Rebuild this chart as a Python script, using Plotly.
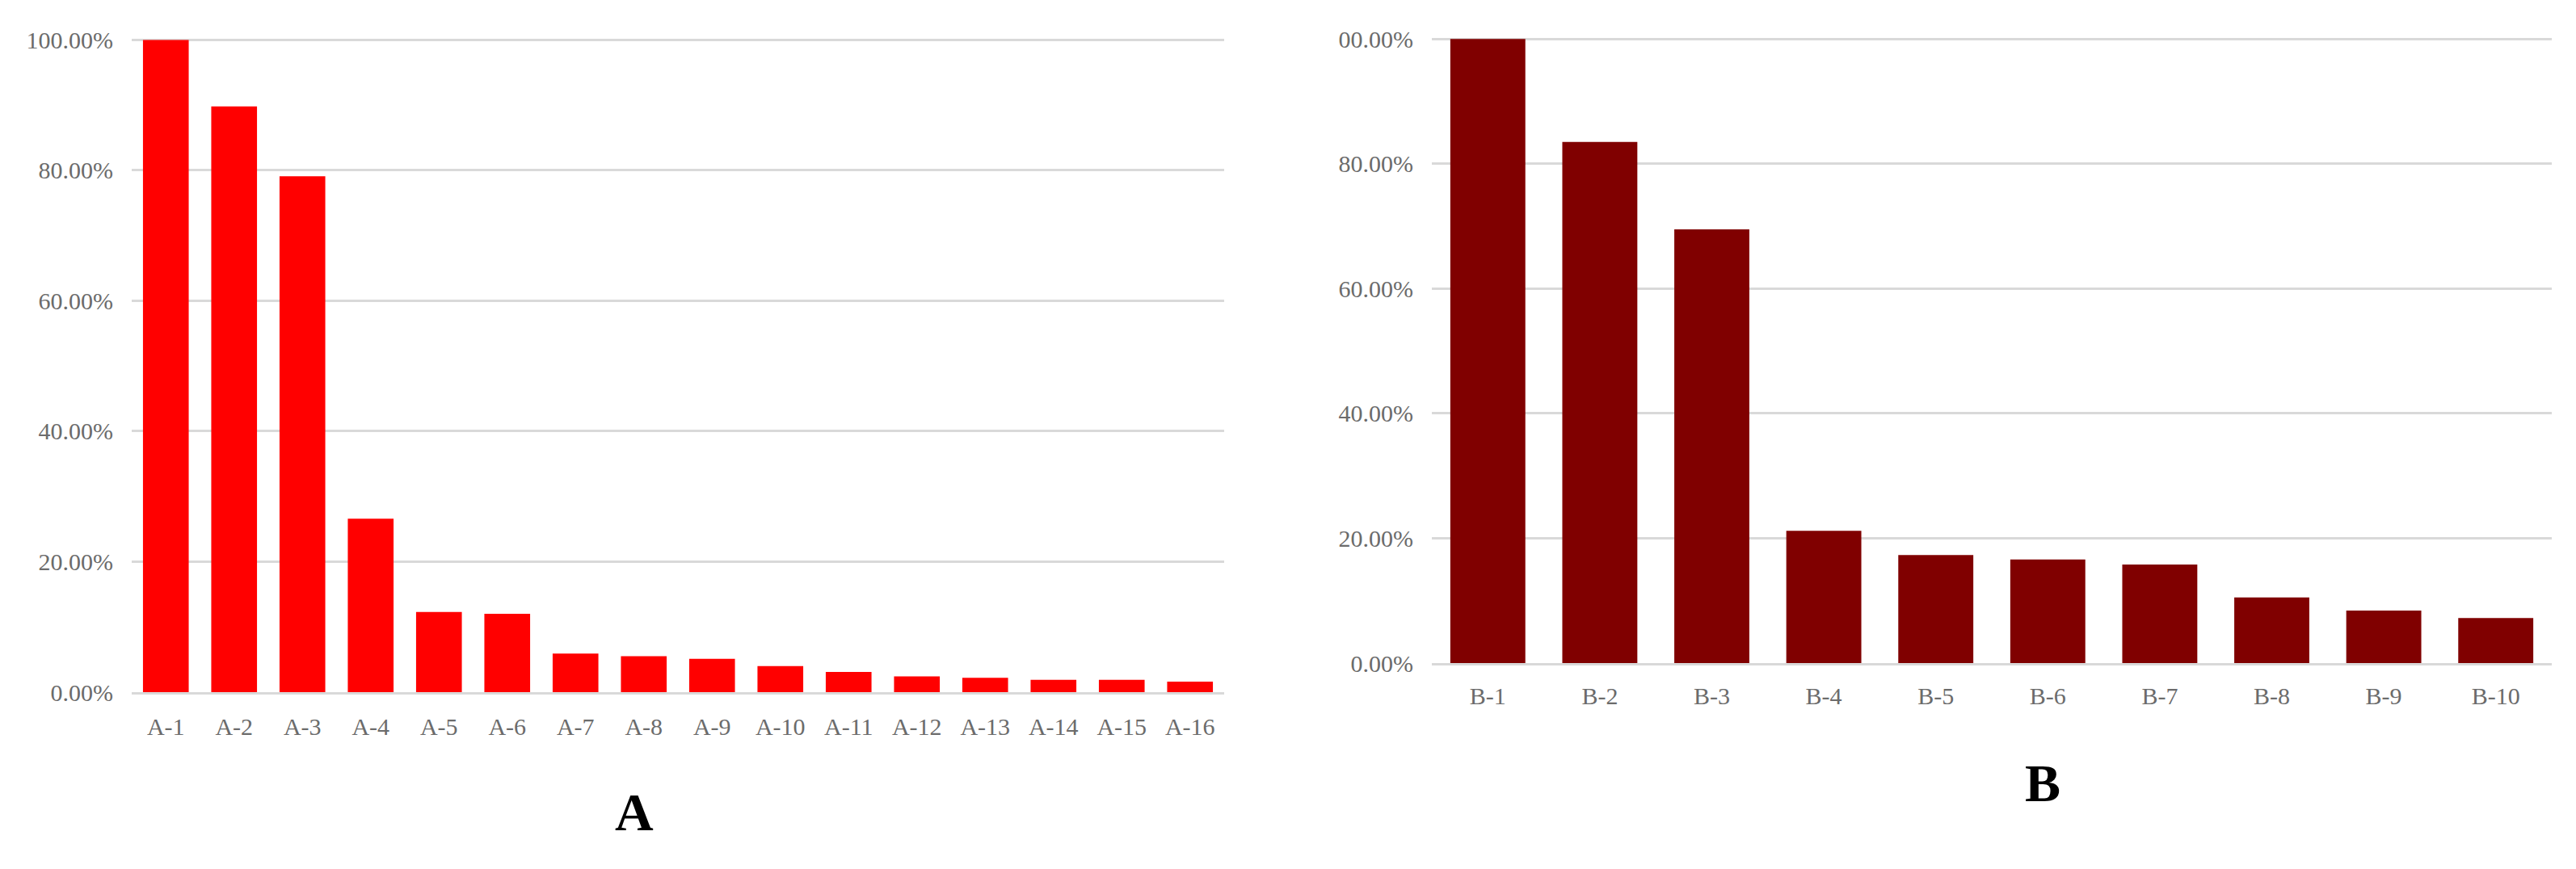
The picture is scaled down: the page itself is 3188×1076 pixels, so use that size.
import plotly.graph_objects as go

# panel A
cat_a = ["A-1", "A-2", "A-3", "A-4", "A-5", "A-6", "A-7", "A-8",
         "A-9", "A-10", "A-11", "A-12", "A-13", "A-14", "A-15", "A-16"]
val_a = [100.0, 89.8, 79.1, 26.6, 12.3, 12.0, 5.9, 5.5,
         5.1, 4.0, 3.1, 2.4, 2.2, 1.9, 1.9, 1.6]

# panel B
cat_b = ["B-1", "B-2", "B-3", "B-4", "B-5", "B-6", "B-7", "B-8", "B-9", "B-10"]
val_b = [100.0, 83.5, 69.5, 21.2, 17.3, 16.6, 15.8, 10.5, 8.4, 7.2]

tick_vals = [0, 20, 40, 60, 80, 100]
tick_text_a = ["0.00%", "20.00%", "40.00%", "60.00%", "80.00%", "100.00%"]
# top label of panel B is cut off in the original figure
tick_text_b = ["0.00%", "20.00%", "40.00%", "60.00%", "80.00%", "00.00%"]

W, H = 3188, 1076
OFF = 8  # page body margin


def px_x(p):
    return (p - OFF) / W


def px_y(p):
    return 1 - (p - OFF) / H


tick_font = dict(family="Liberation Serif", size=30, color="#6b6b6b")
grid = "#d9d9d9"

fig = go.Figure()
fig.add_trace(go.Bar(x=cat_a, y=val_a, marker_color="#FF0000",
                     marker_line_width=0, xaxis="x", yaxis="y"))
fig.add_trace(go.Bar(x=cat_b, y=val_b, marker_color="#800000",
                     marker_line_width=0, xaxis="x2", yaxis="y2"))

fig.update_layout(
    width=W,
    height=H,
    margin=dict(l=0, r=0, t=0, b=0, pad=0),
    paper_bgcolor="white",
    plot_bgcolor="white",
    showlegend=False,
    bargap=0.33,
    xaxis=dict(domain=[px_x(163), px_x(1515)], anchor="y", tickfont=tick_font,
               showline=True, linecolor=grid, linewidth=3, ticks="",
               ticklabelstandoff=14, automargin=False),
    yaxis=dict(domain=[px_y(857), px_y(47)], anchor="x", range=[0, 100.3],
               tickvals=tick_vals, ticktext=tick_text_a, tickfont=tick_font,
               showgrid=True, gridcolor=grid, gridwidth=3, zeroline=False,
               ticklabelstandoff=22, automargin=False),
    xaxis2=dict(domain=[px_x(1772), px_x(3158)], anchor="y2", tickfont=tick_font,
                showline=True, linecolor=grid, linewidth=3, ticks="",
                ticklabelstandoff=12, automargin=False),
    yaxis2=dict(domain=[px_y(821), px_y(46)], anchor="x2", range=[0, 100.3],
                tickvals=tick_vals, ticktext=tick_text_b, tickfont=tick_font,
                showgrid=True, gridcolor=grid, gridwidth=3, zeroline=False,
                ticklabelstandoff=22, automargin=False),
    annotations=[
        dict(text="<b>A</b>", x=px_x(785), y=px_y(1005), xref="paper", yref="paper",
             xanchor="center", yanchor="middle", showarrow=False,
             font=dict(family="Liberation Serif", size=66, color="black")),
        dict(text="<b>B</b>", x=px_x(2528), y=px_y(969), xref="paper", yref="paper",
             xanchor="center", yanchor="middle", showarrow=False,
             font=dict(family="Liberation Serif", size=66, color="black")),
    ],
)

fig.write_html("out.html")
